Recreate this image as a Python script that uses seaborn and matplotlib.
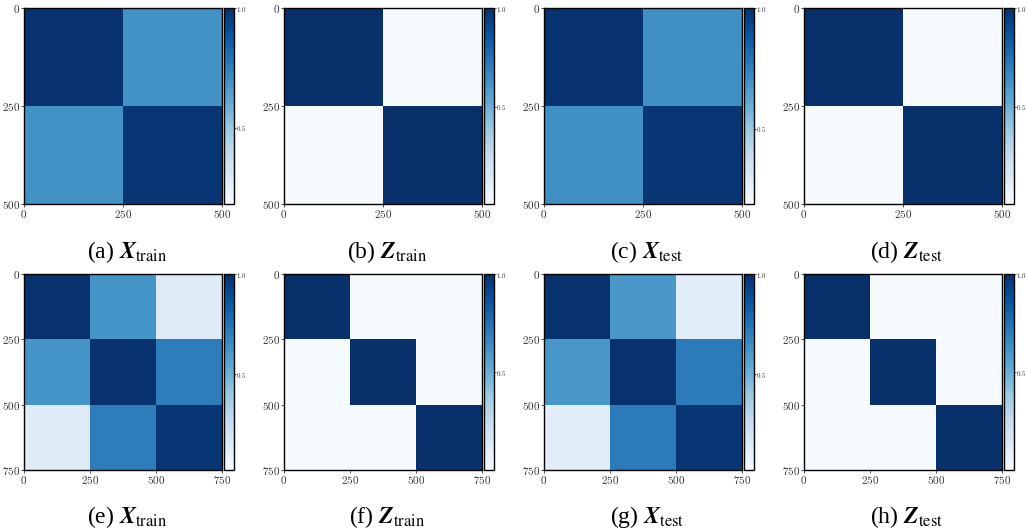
import numpy as np
import matplotlib
matplotlib.use('Agg')
import matplotlib.pyplot as plt
import seaborn as sns

# block means of each similarity matrix (each block is 250 x 250 samples)
block_size = 250
x_train_two = [[0.99, 0.69], [0.69, 0.98]]
z_train_two = [[1.00, 0.02], [0.02, 1.00]]
x_test_two = [[0.99, 0.70], [0.70, 0.98]]
z_test_two = [[1.00, 0.02], [0.02, 1.00]]
x_train_three = [[0.99, 0.62, 0.14], [0.62, 0.99, 0.71], [0.14, 0.71, 0.98]]
z_train_three = [[1.00, 0.01, 0.01], [0.01, 1.00, 0.01], [0.01, 0.01, 1.00]]
x_test_three = [[0.99, 0.61, 0.13], [0.61, 0.99, 0.72], [0.13, 0.72, 0.98]]
z_test_three = [[1.00, 0.01, 0.01], [0.01, 1.00, 0.01], [0.01, 0.01, 1.00]]

panels = [x_train_two, z_train_two, x_test_two, z_test_two,
          x_train_three, z_train_three, x_test_three, z_test_three]
letters = ['a', 'b', 'c', 'd', 'e', 'f', 'g', 'h']
symbols = ['X', 'Z', 'X', 'Z', 'X', 'Z', 'X', 'Z']
splits = ['train', 'train', 'test', 'test', 'train', 'train', 'test', 'test']
# lower end of each colour bar
color_min = [0.18, 0.01, 0.19, 0.01, 0.02, 0.0, 0.02, 0.0]
cbar_ticks = [0.5, 1.0]

W, H = 1027, 529
fig = plt.figure(figsize=(W / 100, H / 100), dpi=100)


def expand(blocks):
    return np.kron(np.array(blocks), np.ones((block_size, block_size)))


for i, blocks in enumerate(panels):
    row, col = divmod(i, 4)
    left = 24 + 260 * col
    top = 8 if row == 0 else 274
    h = 196
    ax = fig.add_axes([left / W, 1 - (top + h) / H, 198 / W, h / H])
    cax = fig.add_axes([(left + 200) / W, 1 - (top + h) / H, 9.5 / W, h / H])

    mat = expand(blocks)
    sns.heatmap(mat, ax=ax, cbar_ax=cax, cmap='Blues', vmin=color_min[i], vmax=1.0,
                xticklabels=False, yticklabels=False, rasterized=True)

    n = mat.shape[0]
    ticks = np.arange(0, n + 1, block_size)
    labels = [f'${t}$' for t in ticks]
    ax.set_xticks(ticks)
    ax.set_yticks(ticks)
    ax.set_xticklabels(labels, math_fontfamily='cm', fontsize=8, rotation=0, color='#333333')
    ax.set_yticklabels(labels, math_fontfamily='cm', fontsize=8, rotation=0, color='#333333')
    ax.tick_params(length=2, width=0.6, pad=1, color='#333333')
    for sp in ax.spines.values():
        sp.set_visible(True)
        sp.set_color('black')
        sp.set_linewidth(1.0)

    cbar = ax.collections[0].colorbar
    cbar.outline.set_linewidth(1.0)
    cbar.outline.set_edgecolor('black')
    cbar.set_ticks(cbar_ticks)
    cbar.set_ticklabels([f'${t:.1f}$' for t in cbar_ticks])
    for t in cax.get_yticklabels():
        t.set_math_fontfamily('cm')
        t.set_fontsize(5)
        t.set_color('#333333')
    cax.tick_params(length=1.2, width=0.5, pad=0.5)

    cx = left + 103
    cy = 252 if row == 0 else 517
    fig.text(cx / W, 1 - cy / H,
             rf'({letters[i]}) $\mathbfit{{{symbols[i]}}}_{{\mathrm{{{splits[i]}}}}}$',
             ha='center', va='center', fontsize=17, family='Liberation Serif',
             math_fontfamily='stix')

fig.savefig('out.png', dpi=100)
